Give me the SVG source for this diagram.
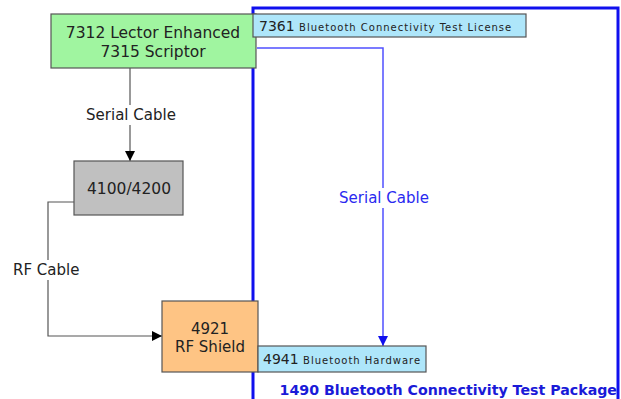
<svg xmlns="http://www.w3.org/2000/svg" width="621" height="399" viewBox="0 0 621 399">
<style>
text{font-family:"DejaVu Sans","Liberation Sans",sans-serif;fill:#222}
.box{stroke:#555;stroke-width:1.2}
.lbl{font-size:15px;text-anchor:middle}
.small{font-size:10px;letter-spacing:1px}
.nt{font-size:15.5px;text-anchor:middle}
</style>
<defs>
<marker id="ab" viewBox="0 0 10 10" refX="10" refY="5" markerWidth="10" markerHeight="10" markerUnits="userSpaceOnUse" orient="auto"><path d="M0,0L10,5L0,10z" fill="#000"/></marker>
<marker id="abl" viewBox="0 0 10 10" refX="10" refY="5" markerWidth="10" markerHeight="10" markerUnits="userSpaceOnUse" orient="auto"><path d="M0,0L10,5L0,10z" fill="#1010ee"/></marker>
</defs>
<g id="package">
<rect x="253" y="8" width="365" height="400" fill="#fff" stroke="#1010ee" stroke-width="3"/>
<text x="617" y="395" text-anchor="end" style="font-size:14.2px;font-weight:bold;fill:#1a1ad8">1490 Bluetooth Connectivity Test Package</text>
</g>
<g id="connectors" fill="none">
<path d="M130,68V161" stroke="#555" stroke-width="1.2" marker-end="url(#ab)"/>
<rect x="82" y="105" width="98" height="20" fill="#fff"/>
<text class="lbl" x="131" y="120">Serial Cable</text>
<path d="M74,202H48V336H162" stroke="#555" stroke-width="1.2" marker-end="url(#ab)"/>
<rect x="11" y="260" width="75" height="20" fill="#fff"/>
<text x="13" y="275" style="font-size:15px">RF Cable</text>
<path d="M257,48H383V346" stroke="#5050ff" stroke-width="1.5" marker-end="url(#abl)"/>
<rect x="334" y="188" width="100" height="20" fill="#fff"/>
<text class="lbl" x="384" y="203" style="fill:#2a2af0">Serial Cable</text>
</g>
<g id="n7312">
<rect class="box" x="51" y="14" width="205" height="54" fill="#a0f5a0"/>
<text class="nt" x="153" y="38">7312 Lector Enhanced</text>
<text class="nt" x="153" y="57">7315 Scriptor</text>
</g>
<g id="n7361">
<rect class="box" x="253" y="14" width="273" height="23" fill="#aee6fa"/>
<text x="259" y="31" style="font-size:14px">7361 <tspan class="small">Bluetooth Connectivity Test License</tspan></text>
</g>
<g id="n4100">
<rect class="box" x="74" y="161" width="109" height="54" fill="#c0c0c0"/>
<text class="nt" x="129" y="194">4100/4200</text>
</g>
<g id="n4921">
<rect class="box" x="162" y="301" width="96" height="71" fill="#fec484"/>
<text class="nt" x="210" y="334" style="font-size:15px">4921</text>
<text class="nt" x="210" y="352" style="font-size:15px">RF Shield</text>
</g>
<g id="n4941">
<rect class="box" x="258" y="346" width="168" height="26" fill="#aee6fa"/>
<text x="263" y="364" style="font-size:14px">4941 <tspan class="small">Bluetooth Hardware</tspan></text>
</g>
</svg>
